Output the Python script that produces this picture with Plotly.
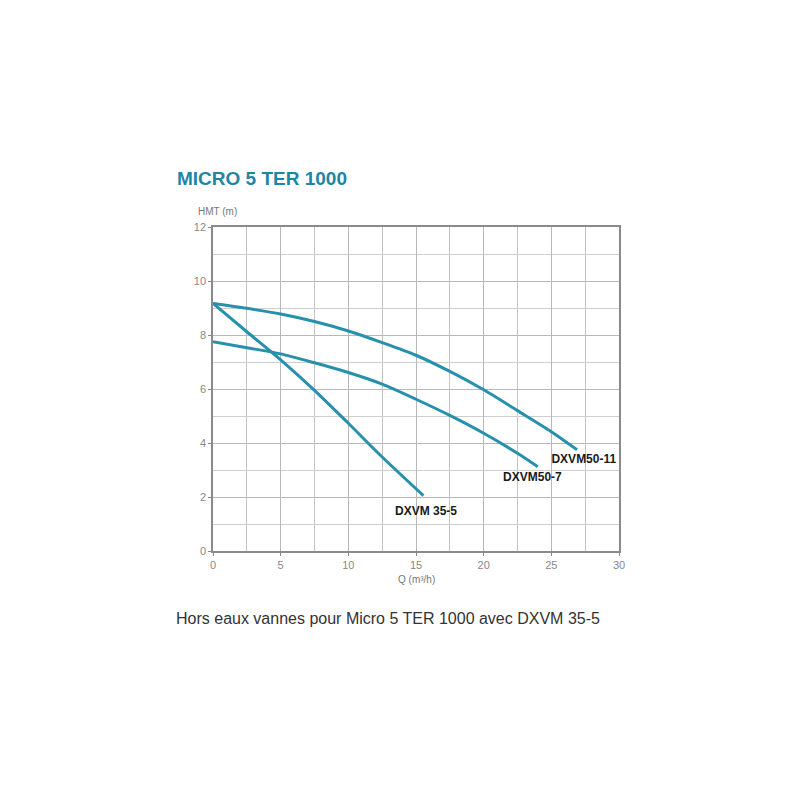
import plotly.graph_objects as go

# Data
q_50_11 = [0, 2.5, 5, 7.5, 10, 12.5, 15, 17.5, 20, 22.5, 25, 26.9]
h_50_11 = [9.17, 8.99, 8.78, 8.5, 8.15, 7.72, 7.25, 6.65, 5.97, 5.2, 4.42, 3.75]

q_50_7 = [0, 2.5, 5, 7.5, 10, 12.5, 15, 17.5, 20, 22.5, 24.0]
h_50_7 = [7.75, 7.53, 7.3, 6.97, 6.61, 6.18, 5.62, 5.02, 4.36, 3.62, 3.12]

q_35_5 = [0, 2.5, 5, 7.5, 10, 12.5, 15.55]
h_35_5 = [9.17, 8.12, 7.08, 5.95, 4.73, 3.48, 2.05]

series_names = ["DXVM50-11", "DXVM50-7", "DXVM 35-5"]
label_x = [27.4, 23.6, 15.74]
label_y = [3.37, 2.69, 1.43]

x_ticks = [0, 5, 10, 15, 20, 25, 30]
y_ticks = [0, 2, 4, 6, 8, 10, 12]

line_color = "#2690ad"
FONT = "Liberation Sans, Arial, sans-serif"

fig = go.Figure()
for qs, hs, name in [(q_50_11, h_50_11, series_names[0]),
                     (q_50_7, h_50_7, series_names[1]),
                     (q_35_5, h_35_5, series_names[2])]:
    fig.add_trace(go.Scatter(x=qs, y=hs, mode="lines", name=name,
                             line=dict(color=line_color, width=3, shape="spline", smoothing=0.8),
                             showlegend=False))

fig.add_trace(go.Scatter(x=label_x, y=label_y, mode="text",
                         text=["<b>%s</b>" % s for s in series_names],
                         textfont=dict(family=FONT, size=12, color="#1a1a1a"),
                         showlegend=False))

# plot area in page pixels: x 213..619, y 227..551 (page has 8px body margin)
L, T, W, H = 205, 219, 406, 324
fig.update_layout(
    width=800, height=800,
    margin=dict(l=L, r=800 - L - W, t=T, b=800 - T - H),
    paper_bgcolor="white", plot_bgcolor="white",
    font=dict(family=FONT, color="#777777"),
)
fig.update_xaxes(range=[0, 30], tickvals=x_ticks, ticktext=[str(v) for v in x_ticks],
                 showgrid=True, gridcolor="#b8b8b8", gridwidth=1,
                 minor=dict(dtick=2.5, tick0=0, showgrid=True, gridcolor="#c4c4c4"),
                 showline=True, linecolor="#8a8a8a", linewidth=1.5, mirror=True, zeroline=False,
                 ticks="outside", ticklen=3, tickcolor="#888888",
                 tickfont=dict(size=11, color="#888888"))
fig.update_yaxes(range=[0, 12], tickvals=y_ticks, ticktext=[str(v) for v in y_ticks],
                 showgrid=True, gridcolor="#b8b8b8",
                 minor=dict(dtick=1, tick0=0, showgrid=True, gridcolor="#cfcfcf"),
                 showline=True, linecolor="#8a8a8a", linewidth=1.5, mirror=True, zeroline=False,
                 ticks="outside", ticklen=3, tickcolor="#888888",
                 tickfont=dict(size=11, color="#888888"))

def px(xp):
    return (xp - 213) / W

def py(yp):
    return (551 - yp) / H

annos = [
    dict(text="<b>MICRO 5 TER 1000</b>", xref="paper", yref="paper",
         x=px(175), y=py(178), xanchor="left", yanchor="middle",
         showarrow=False, font=dict(family=FONT, size=19, color="#1d86a6")),
    dict(text="HMT (m)", xref="paper", yref="paper",
         x=px(196), y=py(211), xanchor="left", yanchor="middle",
         showarrow=False, font=dict(family=FONT, size=10, color="#777777")),
    dict(text="Q (m³/h)", xref="paper", yref="paper",
         x=0.5, y=py(579), xanchor="center", yanchor="middle",
         showarrow=False, font=dict(family=FONT, size=10, color="#777777")),
    dict(text="Hors eaux vannes pour Micro 5 TER 1000 avec DXVM 35-5", xref="paper", yref="paper",
         x=px(174), y=py(618), xanchor="left", yanchor="middle",
         showarrow=False, font=dict(family=FONT, size=16, color="#333333")),
]
fig.update_layout(annotations=annos)

fig.write_html("out.html")
